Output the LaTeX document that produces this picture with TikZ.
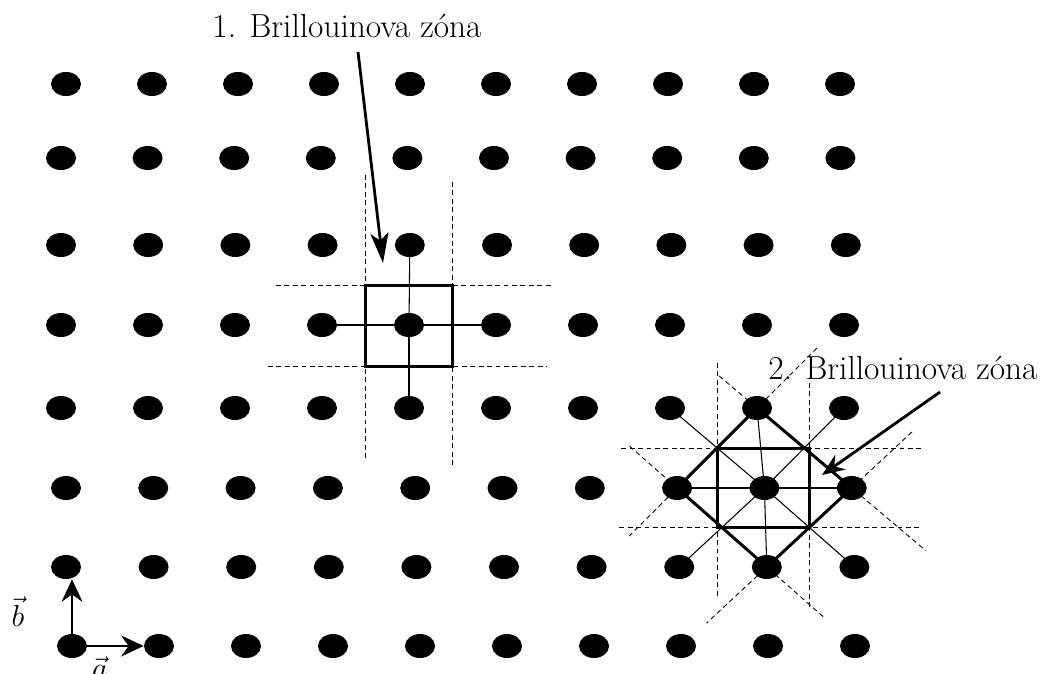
\documentclass[tikz,border=0pt]{standalone}
\usepackage{tikz}
\usetikzlibrary{calc,arrows.meta,shapes.geometric}
\begin{document}
\begin{tikzpicture}[x=0.02cm, y=-0.02cm,
  dot/.style={ellipse, fill=black, inner sep=0pt, minimum width=0.6cm, minimum height=0.48cm},
  spoke/.style={line width=0.6pt},
  zone/.style={line width=1.7pt, line join=miter},
  bis/.style={line width=0.5pt, dash pattern=on 2.8pt off 2pt},
  ptr/.style={-{Stealth[length=#1, width=0.36cm, inset=0.15cm]}, line width=1.6pt},
  ptr/.default=0.45cm,
  vec/.style={-{Stealth[length=0.45cm, width=0.42cm, inset=0.15cm]}, line width=1.2pt},
  lbl/.style={font=\fontsize{19}{22}\selectfont, inner sep=1pt}]
\useasboundingbox (0,0) rectangle (1043,673);
% reciprocal lattice, row by row
\foreach \r/\y/\xo/\dx in {1/84/66/86, 2/158/61/86.6, 3/245/61/87.2, 4/325/61/87,
    5/408/61/87, 6/488/66/87.3, 7/567/66/87.6, 8/646/72/87}
  \foreach \c in {0,...,9}
    \node[dot] (d\r-\c) at ({\xo+\dx*\c},\y) {};
% 1st zone
\coordinate (p1) at ($(d4-4)!0.5!(d3-3)$);
\coordinate (p2) at ($(d4-4)!0.5!(d5-5)$);
\foreach \n in {d3-4,d4-3,d4-5,d5-4} \draw[spoke] (d4-4.center) -- (\n.center);
\draw[bis] ($(p1)+(-90,0)$) -- ($(p1-|p2)+(100,0)$);
\draw[bis] ($(p1|-p2)+(-98,0)$) -- ($(p2)+(94,0)$);
\draw[bis] ($(p1)+(0,-110)$) -- ($(p1|-p2)+(0,91)$);
\draw[bis] ($(p1-|p2)+(0,-103)$) -- ($(p2)+(0,99)$);
\draw[zone] (p1) rectangle (p2);
% 2nd zone
\coordinate (q1) at ($(d6-8)!0.5!(d5-7)$);
\coordinate (q2) at ($(d6-8)!0.5!(d7-9)$);
\foreach \n in {d5-7,d5-8,d5-9,d6-7,d6-9,d7-7,d7-8,d7-9} \draw[spoke] (d6-8.center) -- (\n.center);
\draw[bis] ($(q1)+(-96,0)$) -- ($(q1-|q2)+(112,0)$);
\draw[bis] ($(q1|-q2)+(-98,0)$) -- ($(q2)+(111,0)$);
\draw[bis] ($(q1)+(0,-85)$) -- ($(q1|-q2)+(0,69)$);
\draw[bis] ($(q1-|q2)+(0,-65)$) -- ($(q2)+(0,79)$);
\foreach \a/\b/\s/\t in {d5-8/d6-7/0.75/0.6, d5-8/d6-9/0.4/0.78, d6-7/d7-8/0.53/0.63, d6-9/d7-8/0.71/0.71}
  \draw[bis] ($(\a)!-\s!(\b)$) -- ($(\b)!-\t!(\a)$);
\draw[zone] (q1) rectangle (q2);
\draw[zone] (d5-8.center) -- (d6-9.center) -- (d7-8.center) -- (d6-7.center) -- cycle;
% labels
\node[lbl] (t1) at (347,26) {1. Brillouinova zóna};
\node[lbl] (t2) at (903,368) {2. Brillouinova zóna};
\coordinate (s1) at (358,52);
\coordinate (z1) at (383,263);
\coordinate (s2) at (940,392);
\coordinate (z2) at (822,475);
\draw[ptr=0.6cm] (s1) -- (z1);
\draw[ptr] (s2) -- (z2);
% basis vectors
\draw[vec] (d8-0.center) -- (d8-1.west);
\draw[vec] (d8-0.center) -- (d8-0.center |- d7-0.south);
\node[lbl] (vb) at (18,612) {$\vec{b}$};
\node[lbl] (va) at (100,668) {$\vec{a}$};
\end{tikzpicture}
\end{document}
